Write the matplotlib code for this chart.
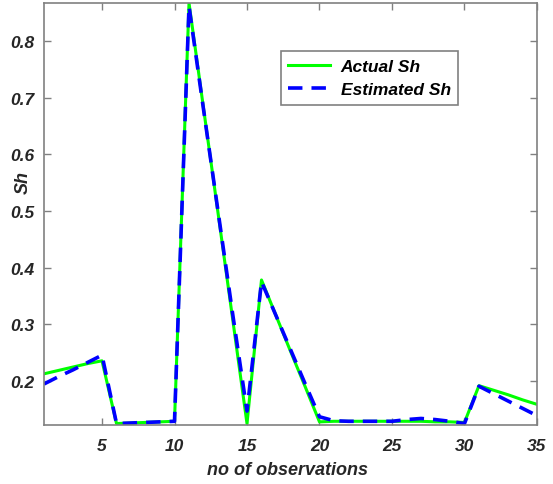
import matplotlib.pyplot as plt

# observation index and the two Sh series
obs = list(range(1, 36))
actual_sh = [0.212, 0.218, 0.224, 0.230, 0.235, 0.124, 0.125, 0.126, 0.127, 0.128,
             0.868, 0.682, 0.497, 0.311, 0.124, 0.378, 0.315, 0.252, 0.190, 0.127,
             0.128, 0.128, 0.128, 0.128, 0.128, 0.128, 0.128, 0.127, 0.127, 0.126,
             0.191, 0.183, 0.175, 0.166, 0.158]
estimated_sh = [0.194, 0.207, 0.219, 0.232, 0.245, 0.124, 0.125, 0.126, 0.127, 0.128,
                0.862, 0.680, 0.500, 0.320, 0.146, 0.375, 0.315, 0.255, 0.195, 0.136,
                0.129, 0.128, 0.128, 0.128, 0.128, 0.131, 0.133, 0.131, 0.128, 0.124,
                0.190, 0.177, 0.164, 0.151, 0.138]

plt.rcParams['font.family'] = ['Liberation Sans', 'DejaVu Sans']
font = {'size': 13, 'weight': 'bold', 'style': 'italic', 'color': '#262626'}

fig = plt.figure(figsize=(5.53, 4.85), dpi=100)
ax = fig.add_axes([0.0796, 0.1216, 0.8914, 0.8702])

ax.plot(obs, actual_sh, color='#00ff00', linewidth=2.2, label='Actual Sh')
ax.plot(obs, estimated_sh, color='#0000ff', linewidth=2.6, dashes=(4, 2.5),
        label='Estimated Sh')

ax.set_xlim(1, 35)
ax.set_ylim(0.1214, 0.868)
ax.set_xticks([5, 10, 15, 20, 25, 30, 35])
ax.set_yticks([0.2, 0.3, 0.4, 0.5, 0.6, 0.7, 0.8])
ax.tick_params(direction='in', length=5, width=1, color='#808080',
               top=True, right=True)
ax.tick_params(axis='x', pad=9)
ax.tick_params(axis='y', pad=7)
for lab in ax.get_xticklabels() + ax.get_yticklabels():
    lab.set_fontsize(12.5)
    lab.set_fontweight('bold')
    lab.set_fontstyle('italic')
    lab.set_color('#262626')
for s in ax.spines.values():
    s.set_color('#808080')
    s.set_linewidth(1.2)

ax.set_xlabel('no of observations', fontdict=font)
ax.xaxis.set_label_coords(0.493, -0.085)
ax.set_ylabel('Sh', fontdict=font)
ax.yaxis.set_label_coords(-0.025, 0.576)

leg = ax.legend(loc='upper left', bbox_to_anchor=(0.480, 0.887), borderaxespad=0,
                fancybox=False, framealpha=1, edgecolor='#808080',
                handlelength=2.4, handletextpad=0.6, borderpad=0.45,
                labelspacing=0.5,
                prop={'size': 12.5, 'weight': 'bold', 'style': 'italic'})
leg.get_frame().set_linewidth(1.2)

fig.savefig('out.png', dpi=100)
